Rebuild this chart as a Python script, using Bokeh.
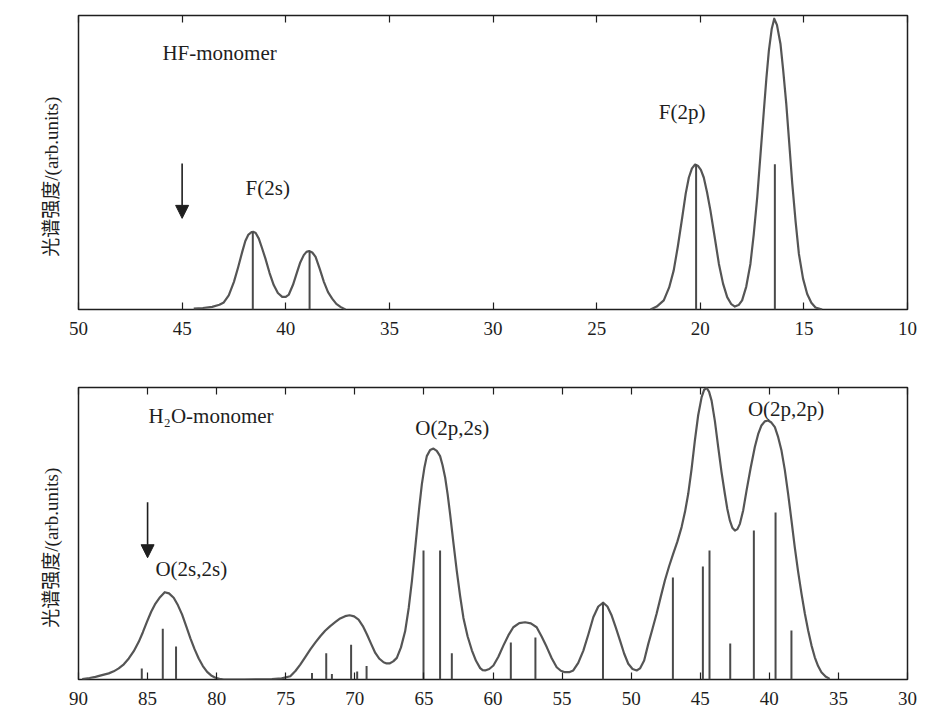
from bokeh.plotting import figure
from bokeh.models import (ColumnDataSource, Range1d, LinearAxis, FixedTicker,
                          Arrow, NormalHead)
from bokeh.layouts import column
from bokeh.core.properties import value
from bokeh.embed import file_html
from bokeh.resources import INLINE

# ---------------- HF monomer ----------------
hf_ticks = [50, 45, 40, 35, 30, 25, 20, 15, 10]
hf_curve_e = [44.44, 44.0, 43.55, 43.2, 42.99, 42.75, 42.5, 42.3, 42.1, 41.95,
              41.8, 41.65, 41.55, 41.45, 41.3, 41.15, 40.98, 40.78, 40.58, 40.38,
              40.17, 40.0, 39.85, 39.65, 39.45, 39.3, 39.13, 39.0, 38.87, 38.72,
              38.56, 38.36, 38.16, 37.96, 37.76, 37.56, 37.36, 37.12]
hf_curve_i = [0.3, 0.5, 0.9, 1.6, 2.4, 4.8, 9.4, 14.3, 19.6, 23.3,
              25.5, 26.3, 26.4, 26.0, 24.1, 21.0, 17.3, 12.4, 8.3, 5.6,
              4.3, 4.3, 5.1, 8.4, 12.8, 16.0, 18.5, 19.6, 19.9, 19.4,
              17.9, 13.8, 9.4, 5.9, 3.7, 1.9, 0.9, 0.0]
hf_curve2_e = [22.4, 22.1, 21.76, 21.5, 21.28, 21.08, 20.87, 20.7, 20.55, 20.4,
               20.25, 20.1, 19.97, 19.83, 19.67, 19.51, 19.3, 19.1, 18.9, 18.7,
               18.5, 18.33, 18.15, 17.98, 17.78, 17.58, 17.42, 17.25, 17.09, 16.93,
               16.81, 16.69, 16.55, 16.43, 16.3, 16.13, 16.0, 15.85, 15.7, 15.56,
               15.4, 15.24, 15.04, 14.84, 14.64, 14.44, 14.12]
hf_curve2_i = [0.0, 1.0, 3.1, 7.5, 13.3, 21.5, 31.3, 39.5, 44.9, 48.0,
               49.3, 48.8, 47.5, 44.9, 39.8, 33.7, 24.5, 15.5, 8.8, 4.2,
               1.8, 1.0, 1.5, 3.1, 7.8, 15.5, 25.5, 38.2, 53.0, 67.7,
               78.5, 88.0, 95.5, 98.9, 96.8, 90.4, 81.5, 70.0, 56.0, 42.8,
               30.0, 18.9, 10.5, 5.3, 2.3, 0.7, 0.0]
hf_stick_e = [41.59, 38.85, 20.2, 16.4]
hf_stick_i = [26.4, 19.9, 49.4, 49.4]
hf_text = ["HF-monomer", "F(2s)", "F(2p)"]
hf_text_e = [45.95, 41.94, 22.0]
hf_text_i = [87.1, 41.3, 67.3]
hf_arrow = dict(e=45.0, start=49.7, end=31.0)

# ---------------- H2O monomer ----------------
w_ticks = [90, 85, 80, 75, 70, 65, 60, 55, 50, 45, 40, 35, 30]
w_curve_e = [89.73, 89.2, 88.77, 88.3, 87.81, 87.45, 87.09, 86.72, 86.36, 86.0,
             85.64, 85.34, 85.04, 84.74, 84.43, 84.1, 83.76, 83.45, 83.11, 82.8,
             82.5, 82.2, 81.9, 81.6, 81.3, 81.0, 80.69, 80.4, 80.09, 79.8,
             79.49, 78.0, 76.0, 75.3, 74.67, 74.3, 73.95, 73.6, 73.22, 72.85,
             72.5, 72.15, 71.78, 71.4, 71.06, 70.7, 70.38, 70.05, 69.73, 69.42,
             69.12, 68.82, 68.52, 68.22, 67.92, 67.7, 67.49, 67.22, 66.96, 66.66,
             66.36, 66.1, 65.87, 65.69, 65.51, 65.33, 65.15, 64.97, 64.79, 64.55,
             64.31, 64.07, 63.83, 63.65, 63.46, 63.28, 63.1, 62.86, 62.62, 62.38,
             62.14, 61.84, 61.53, 61.23, 60.93, 60.75, 60.57, 60.27, 59.97, 59.61,
             59.25, 58.89, 58.53, 58.1, 57.68, 57.26, 56.84, 56.48, 56.11, 55.75,
             55.39, 55.09, 54.79, 54.49, 54.19, 53.83, 53.46, 53.1, 52.74, 52.38,
             52.02, 51.72, 51.41, 51.11, 50.81, 50.51, 50.21, 49.9, 49.6, 49.36,
             49.06, 48.76, 48.46, 48.16, 47.86, 47.56, 47.26, 46.96, 46.65, 46.35,
             46.1, 45.87, 45.63, 45.39, 45.15, 44.9, 44.72, 44.54, 44.36, 44.18,
             43.94, 43.7, 43.46, 43.22, 43.04, 42.86, 42.68, 42.49, 42.31, 42.13,
             41.89, 41.65, 41.35, 41.05, 40.81, 40.57, 40.33, 40.09, 39.85, 39.6,
             39.36, 39.12, 38.88, 38.64, 38.4, 38.16, 37.92, 37.67, 37.43, 37.19,
             36.95, 36.71, 36.47, 36.23, 35.93, 35.63]
w_curve_i = [0.1, 0.5, 0.9, 1.5, 2.1, 2.8, 3.8, 5.2, 7.2, 9.7,
             12.9, 16.2, 19.8, 23.2, 26.0, 28.2, 29.9, 29.5, 28.0, 25.4,
             22.2, 18.2, 14.1, 10.4, 7.2, 4.6, 2.6, 1.4, 0.6, 0.2,
             0.0, 0.0, 0.1, 0.4, 1.1, 2.9, 5.1, 7.6, 10.3, 12.7,
             14.8, 16.7, 18.3, 19.7, 20.9, 21.7, 22.0, 21.6, 20.5, 18.3,
             15.4, 12.2, 9.1, 7.1, 5.9, 5.5, 5.5, 6.2, 7.4, 11.0,
             16.5, 24.5, 33.7, 42.2, 50.8, 59.3, 66.8, 72.4, 76.5, 78.6,
             79.1, 78.3, 76.5, 73.4, 69.1, 63.3, 56.5, 46.6, 37.1, 28.6,
             21.1, 14.8, 10.0, 6.4, 3.9, 3.2, 3.1, 3.6, 4.8, 7.8,
             11.6, 15.1, 17.9, 19.3, 19.6, 19.2, 17.9, 14.7, 11.1, 7.3,
             4.2, 3.0, 2.5, 2.5, 3.1, 5.7, 9.9, 15.4, 21.3, 25.0,
             26.3, 25.0, 21.9, 17.8, 13.4, 8.9, 5.4, 3.6, 3.1, 3.8,
             6.5, 12.2, 17.3, 22.5, 28.3, 33.9, 38.7, 43.0, 47.3, 52.2,
             57.5, 63.6, 72.0, 81.8, 90.5, 96.7, 99.2, 99.9, 98.5, 95.5,
             88.5, 79.6, 71.0, 63.6, 58.4, 54.5, 52.0, 51.0, 51.5, 53.3,
             58.0, 64.7, 72.5, 79.6, 84.0, 87.0, 88.4, 88.7, 88.0, 86.4,
             83.0, 78.4, 71.8, 63.6, 54.6, 45.3, 37.0, 29.3, 22.6, 16.8,
             11.7, 7.6, 4.6, 2.5, 1.0, 0.2]
w_stick_e = [85.42, 83.9, 82.94, 73.1, 72.07, 71.66, 70.27, 69.83, 69.15,
             65.03, 63.83, 62.98, 58.71, 56.93, 52.04, 46.98, 44.81, 44.33,
             42.83, 41.12, 39.55, 38.4]
w_stick_i = [3.8, 17.4, 11.3, 2.2, 9.0, 1.9, 11.9, 2.7, 4.6,
             44.2, 44.2, 9.0, 12.7, 14.4, 26.4, 34.9, 38.7, 44.2,
             12.3, 51.0, 57.2, 16.8]
w_text = ["H\u2082O-monomer", "O(2s,2s)", "O(2p,2s)", "O(2p,2p)"]
w_text_e = [84.94, 84.43, 65.63, 41.55]
w_text_i = [90.1, 37.9, 86.3, 92.7]
w_arrow = dict(e=85.0, start=60.7, end=41.7)

# trailing en/em space nudges the centred label towards the baseline
y_label = "光谱强度/(arb.units)\u2003\u2002"

SERIF = "'Liberation Serif', 'Noto Sans CJK SC', serif"
CURVE = "#555555"
STICK = "#4a4a4a"
INK = "#1e1e1e"


def panel(x_lo, x_hi, ticks, height, top, bottom, right):
    p = figure(width=937, height=height, output_backend="svg",
               toolbar_location=None, x_range=Range1d(x_lo, x_hi),
               y_range=Range1d(0, 100), x_axis_location=None,
               y_axis_location=None, min_border_left=78,
               min_border_right=right, min_border_top=top,
               min_border_bottom=bottom)
    p.xgrid.visible = False
    p.ygrid.visible = False
    p.outline_line_color = INK
    p.outline_line_width = 1.5
    p.background_fill_color = "white"
    p.border_fill_color = "white"

    below = LinearAxis(ticker=FixedTicker(ticks=ticks))
    below.major_tick_in = 7
    below.major_tick_out = 0
    below.minor_tick_line_color = None
    below.axis_line_color = None
    below.major_tick_line_color = INK
    below.major_tick_line_width = 1.2
    below.major_label_text_font = SERIF
    below.major_label_text_font_size = "19px"
    below.major_label_text_color = INK
    below.major_label_standoff = 12
    p.add_layout(below, "below")

    # tick marks along the top edge of the frame, no labels
    above = LinearAxis(ticker=FixedTicker(ticks=ticks))
    above.major_tick_in = 7
    above.major_tick_out = 0
    above.minor_tick_line_color = None
    above.axis_line_color = None
    above.major_tick_line_color = INK
    above.major_tick_line_width = 1.2
    above.major_label_text_font_size = "0px"
    above.major_label_text_color = None
    above.major_label_standoff = 0
    p.add_layout(above, "above")

    left = LinearAxis(ticker=FixedTicker(ticks=[]))
    left.major_tick_in = 0
    left.major_tick_out = 0
    left.minor_tick_line_color = None
    left.axis_line_color = None
    left.major_label_text_font_size = "0px"
    left.major_label_text_color = None
    left.major_label_standoff = 0
    left.axis_label = y_label
    left.axis_label_text_font = SERIF
    left.axis_label_text_font_size = "19px"
    left.axis_label_text_font_style = "normal"
    left.axis_label_text_color = INK
    left.axis_label_standoff = 17
    p.add_layout(left, "left")
    return p


def draw(p, curves, stick_e, stick_i, texts, text_e, text_i, arrow):
    for ce, ci in curves:
        p.line(ce, ci, line_color=CURVE, line_width=2.2, line_join="round")
    sticks = ColumnDataSource(dict(x=stick_e, h=stick_i))
    p.segment(x0="x", y0=0, x1="x", y1="h", source=sticks,
              line_color=STICK, line_width=2)
    labels = ColumnDataSource(dict(x=text_e, y=text_i, t=texts))
    p.text(x="x", y="y", text="t", source=labels,
           text_font=value("Liberation Serif"), text_font_size="21px",
           text_color=INK, text_align="left", text_baseline="middle")
    p.add_layout(Arrow(end=NormalHead(size=13, fill_color=INK, line_color=INK),
                       x_start=arrow["e"], y_start=arrow["start"],
                       x_end=arrow["e"], y_end=arrow["end"],
                       line_color=INK, line_width=1.6))


p1 = panel(50, 10, hf_ticks, 362, 15, 53, 30)
draw(p1, [(hf_curve_e, hf_curve_i), (hf_curve2_e, hf_curve2_i)],
     hf_stick_e, hf_stick_i, hf_text, hf_text_e, hf_text_i, hf_arrow)

p2 = panel(90, 30, w_ticks, 362, 25, 45, 29)
draw(p2, [(w_curve_e, w_curve_i)],
     w_stick_e, w_stick_i, w_text, w_text_e, w_text_i, w_arrow)

layout = column(p1, p2, spacing=0)
open("out.html", "w").write(file_html(layout, INLINE))
